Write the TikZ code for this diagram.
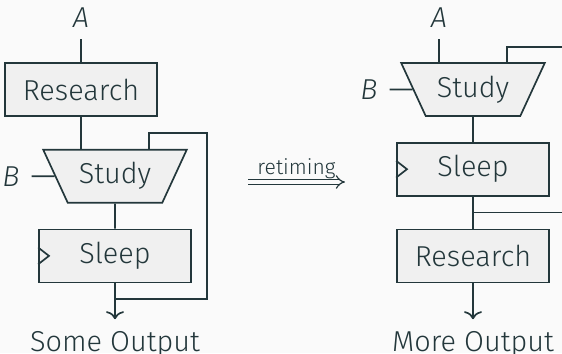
\documentclass[tikz,border=0pt]{standalone}
\usepackage{fontspec}
\setmainfont{Fira Sans}[UprightFont=* Light, ItalicFont=* Light Italic]
\usetikzlibrary{positioning,shapes.geometric,arrows.meta}
\definecolor{mteal}{HTML}{23373B}
\definecolor{mfill}{HTML}{F0F0F0}
\definecolor{mbg}{HTML}{FAFAFA}

\begin{document}
\begin{tikzpicture}[very thick, color=mteal, font=\fontsize{20.5}{24}\selectfont,
  box node/.style={rectangle,draw,fill=mfill,minimum width=3.8cm,minimum height=1.325cm},
  mux node/.style={trapezium,trapezium angle=60,shape border rotate=180,trapezium stretches=true,draw,fill=mfill,minimum width=3.6cm,minimum height=1.325cm},
  port node/.style={inner sep=0pt,outer sep=0.3cm},
  out arrow/.style={-{To[length=2mm,width=4.5mm]}}]
\path[use as bounding box,fill=mbg](0,0)rectangle(14.05,-8.825);
% before
\node[box node](1) at (2.025,-2.2375){Research};
\node[port node](0)[above=0.575cm of 1]{\textit{A}};
\node[mux node](2)[below=0.8cm of 1,xshift=0.85cm]{Study};
\node[port node](4)[left=0.575cm of 2]{\textit{B}};
\node[box node](3)[below=0.625cm of 2]{Sleep};
\node[port node](5)[below=0.9cm of 3]{Some Output};
\coordinate[below=0.4cm of 3](j1);
\coordinate[right=0.375cm of 3](r1);
\draw[-](0)to(1);
\draw[-](1.south)to([xshift=-0.85cm]2.north);
\draw[-](4)to(2);
\draw[-](2)to(3);
\draw[out arrow](3)to(5);
\draw[-]([xshift=0.85cm]2.north)--++(0,0.4)-|(r1|-j1)--(j1);
\draw[-]([yshift=0.21cm]3.west)--++(0.27,-0.21)--++(-0.27,-0.21);
% after
\node[mux node](7) at (11.825,-2.2375){Study};
\coordinate(i7) at ([xshift=-0.85cm]7.north);
\node[port node](6)[above=0.575cm of i7]{\textit{A}};
\node[port node](10)[left=0.575cm of 7]{\textit{B}};
\node[box node](8)[below=0.625cm of 7]{Sleep};
\node[box node](9)[below=0.8cm of 8]{Research};
\node[port node](11)[below=0.9cm of 9]{More Output};
\coordinate[below=0.4cm of 8](j2);
\coordinate(e1) at (14.05,-1.175);
\draw[-](6)to(i7);
\draw[-](10)to(7);
\draw[-](7)to(8);
\draw[-](8)to(9);
\draw[out arrow](9)to(11);
\draw[-]([xshift=0.85cm]7.north)|-(e1);
\draw[-](j2)--(j2-|e1);
\draw[-]([yshift=0.21cm]8.west)--++(0.27,-0.21)--++(-0.27,-0.21);
% retiming
\coordinate(p) at (6.2,-4.55);
\coordinate(q) at (8.625,-4.55);
\draw[double=mbg,double distance=2.5pt,line width=0.85pt,-Implies](p)--node[above,inner sep=1.5pt,font=\fontsize{15}{18}\selectfont]{retiming}(q);
\end{tikzpicture}
\end{document}
